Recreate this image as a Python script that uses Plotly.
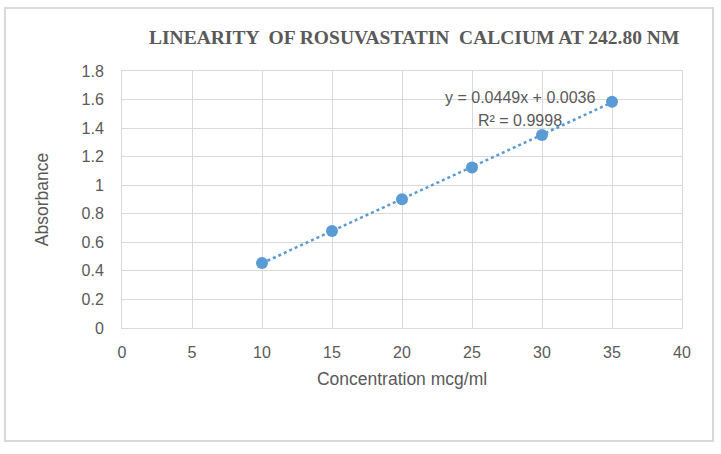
import numpy as np
import plotly.graph_objects as go

concentration = [10, 15, 20, 25, 30, 35]
absorbance = [0.456, 0.680, 0.902, 1.124, 1.352, 1.585]
x_ticks = [0, 5, 10, 15, 20, 25, 30, 35, 40]
y_ticks = [0, 0.2, 0.4, 0.6, 0.8, 1.0, 1.2, 1.4, 1.6, 1.8]
y_tick_text = ["0", "0.2", "0.4", "0.6", "0.8", "1", "1.2", "1.4", "1.6", "1.8"]
equation_text = "y = 0.0449x + 0.0036"
r2_text = "R² = 0.9998"
title_text = "LINEARITY  OF ROSUVASTATIN  CALCIUM AT 242.80 NM"

W, H = 721, 454
L, R, T, B = 122, 39, 71, 126
pw, ph = W - L - R, H - T - B

def px(xp):
    return (xp - L) / pw

def py(yp):
    return (H - B - yp) / ph

slope, intercept = np.polyfit(concentration, absorbance, 1)
fit_x = [min(concentration), max(concentration)]
fit_y = [slope * v + intercept for v in fit_x]

blue = "#5b9bd5"
grey = "#595959"
grid = "#d9d9d9"
font = "Liberation Sans, Arial, sans-serif"

fig = go.Figure()
fig.add_trace(go.Scatter(x=fit_x, y=fit_y, mode="lines",
                         line=dict(color=blue, width=2.5, dash="dot"),
                         hoverinfo="skip", showlegend=False))
fig.add_trace(go.Scatter(x=concentration, y=absorbance, mode="markers",
                         marker=dict(color=blue, size=12),
                         showlegend=False))

fig.update_layout(
    width=W, height=H,
    margin=dict(l=L, r=R, t=T, b=B),
    paper_bgcolor="white", plot_bgcolor="white",
    font=dict(family=font, color=grey, size=13),
    xaxis=dict(range=[0, 40], tickvals=x_ticks, showgrid=True, gridcolor=grid,
               gridwidth=1, zeroline=False, showline=True, linecolor=grid,
               mirror=True, ticks="", ticklabelstandoff=10,
               tickfont=dict(size=16, color=grey),
               title=dict(text="Concentration mcg/ml", font=dict(size=17.5, color=grey),
                          standoff=12)),
    yaxis=dict(range=[0, 1.8], tickvals=y_ticks, ticktext=y_tick_text,
               showgrid=True, gridcolor=grid, gridwidth=1, zeroline=False,
               showline=True, linecolor=grid, mirror=True, ticks="",
               ticklabelstandoff=14,
               tickfont=dict(size=16, color=grey),
               title=dict(text="Absorbance", font=dict(size=17.5, color=grey),
                          standoff=28)),
)

fig.add_annotation(x=px(414), y=py(37), xref="paper", yref="paper",
                   text="<b>" + title_text + "</b>",
                   showarrow=False, xanchor="center", yanchor="middle",
                   font=dict(family="Liberation Serif, Times New Roman, serif",
                             size=19.5, color=grey))
fig.add_annotation(x=px(520), y=py(98), xref="paper", yref="paper",
                   text=equation_text,
                   showarrow=False, xanchor="center", yanchor="middle",
                   font=dict(size=16, color=grey))
fig.add_annotation(x=px(520), y=py(120), xref="paper", yref="paper",
                   text=r2_text,
                   showarrow=False, xanchor="center", yanchor="middle",
                   font=dict(size=16, color=grey))

fig.add_shape(type="rect", xref="paper", yref="paper",
              x0=px(5), x1=px(713), y0=py(441), y1=py(8),
              line=dict(color=grid, width=2), fillcolor="rgba(0,0,0,0)",
              layer="below")

fig.write_html("out.html")
